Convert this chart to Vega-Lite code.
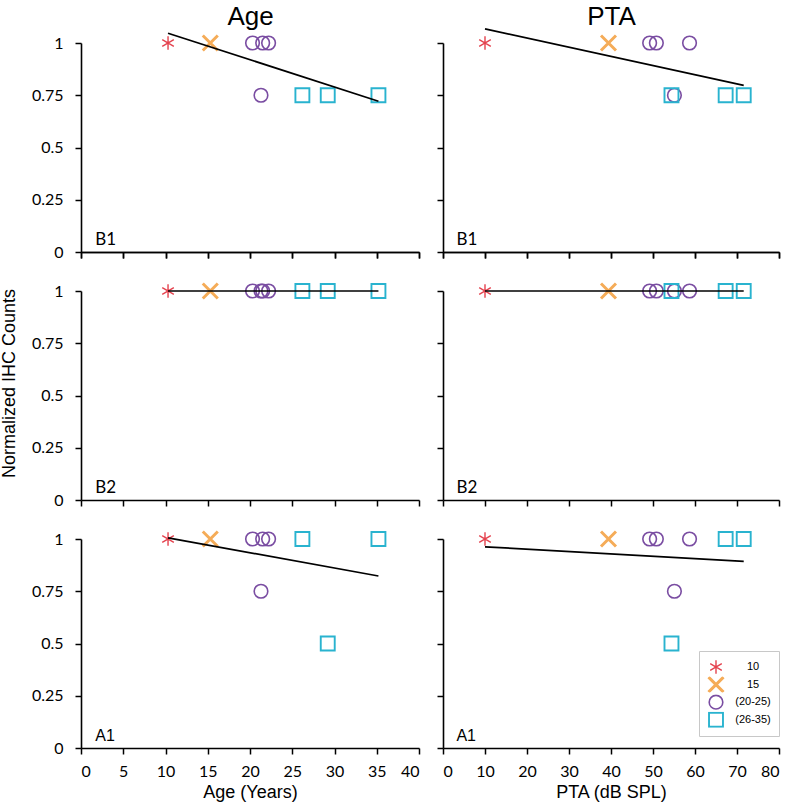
{
  "$schema": "https://vega.github.io/schema/vega-lite/v6.json",
  "background": "white",
  "padding": {"left": 0, "top": 3, "right": 2, "bottom": 2},
  "datasets": {
    "ihc": [
      {"subject": 1, "group": "10", "age": 10.3, "pta": 10.0, "region": "B1", "count": 1},
      {"subject": 2, "group": "15", "age": 15.3, "pta": 39.4, "region": "B1", "count": 1},
      {"subject": 3, "group": "(20-25)", "age": 20.3, "pta": 49.2, "region": "B1", "count": 1},
      {"subject": 4, "group": "(20-25)", "age": 21.5, "pta": 50.8, "region": "B1", "count": 1},
      {"subject": 5, "group": "(20-25)", "age": 22.2, "pta": 58.7, "region": "B1", "count": 1},
      {"subject": 6, "group": "(20-25)", "age": 21.3, "pta": 55.1, "region": "B1", "count": 0.75},
      {"subject": 7, "group": "(26-35)", "age": 26.2, "pta": 67.3, "region": "B1", "count": 0.75},
      {"subject": 8, "group": "(26-35)", "age": 29.2, "pta": 54.4, "region": "B1", "count": 0.75},
      {"subject": 9, "group": "(26-35)", "age": 35.2, "pta": 71.6, "region": "B1", "count": 0.75},
      {"subject": 1, "group": "10", "age": 10.3, "pta": 10.0, "region": "B2", "count": 1},
      {"subject": 2, "group": "15", "age": 15.3, "pta": 39.4, "region": "B2", "count": 1},
      {"subject": 3, "group": "(20-25)", "age": 20.3, "pta": 49.2, "region": "B2", "count": 1},
      {"subject": 4, "group": "(20-25)", "age": 21.5, "pta": 50.8, "region": "B2", "count": 1},
      {"subject": 5, "group": "(20-25)", "age": 22.2, "pta": 58.7, "region": "B2", "count": 1},
      {"subject": 6, "group": "(20-25)", "age": 21.3, "pta": 55.1, "region": "B2", "count": 1},
      {"subject": 7, "group": "(26-35)", "age": 26.2, "pta": 67.3, "region": "B2", "count": 1},
      {"subject": 8, "group": "(26-35)", "age": 29.2, "pta": 54.4, "region": "B2", "count": 1},
      {"subject": 9, "group": "(26-35)", "age": 35.2, "pta": 71.6, "region": "B2", "count": 1},
      {"subject": 1, "group": "10", "age": 10.3, "pta": 10.0, "region": "A1", "count": 1},
      {"subject": 2, "group": "15", "age": 15.3, "pta": 39.4, "region": "A1", "count": 1},
      {"subject": 3, "group": "(20-25)", "age": 20.3, "pta": 49.2, "region": "A1", "count": 1},
      {"subject": 4, "group": "(20-25)", "age": 21.5, "pta": 50.8, "region": "A1", "count": 1},
      {"subject": 5, "group": "(20-25)", "age": 22.2, "pta": 58.7, "region": "A1", "count": 1},
      {"subject": 6, "group": "(20-25)", "age": 21.3, "pta": 55.1, "region": "A1", "count": 0.75},
      {"subject": 7, "group": "(26-35)", "age": 26.2, "pta": 67.3, "region": "A1", "count": 1},
      {"subject": 8, "group": "(26-35)", "age": 29.2, "pta": 54.4, "region": "A1", "count": 0.5},
      {"subject": 9, "group": "(26-35)", "age": 35.2, "pta": 71.6, "region": "A1", "count": 1}
    ]
  },
  "bounds": "flush",
  "columns": 2,
  "spacing": {"row": 39, "column": 24},
  "resolve": {
    "legend": {"color": "independent", "shape": "independent", "size": "independent", "strokeWidth": "independent"}
  },
  "concat": [
    {
      "width": 338, "height": 209,
      "data": {"name": "ihc"},
      "transform": [{"filter": "datum.region === 'B1'"}],
      "layer": [
        {
          "mark": {"type": "point", "filled": false, "opacity": 1},
          "encoding": {
            "x": {"field": "age", "type": "quantitative", "scale": {"domain": [0, 40], "nice": false, "zero": false}, "axis": {"orient": "bottom", "values": [0, 5, 10, 15, 20, 25, 30, 35, 40], "labels": false, "title": null}},
            "y": {"field": "count", "type": "quantitative", "scale": {"domain": [0, 1], "nice": false}, "axis": {"values": [0, 0.25, 0.5, 0.75, 1], "format": ".2~f", "title": null}},
            "shape": {"field": "group", "type": "nominal", "scale": {"domain": ["10", "15", "(20-25)", "(26-35)"], "range": ["M0,-1L0,1M-0.866,-0.5L0.866,0.5M-0.866,0.5L0.866,-0.5", "M-1,-1L1,1M-1,1L1,-1", "circle", "square"]}, "legend": null},
            "color": {"field": "group", "type": "nominal", "scale": {"domain": ["10", "15", "(20-25)", "(26-35)"], "range": ["#E4424E", "#F5AC58", "#7A4DA2", "#29B3CF"]}, "legend": null},
            "size": {"field": "group", "type": "nominal", "scale": {"type": "ordinal", "domain": ["10", "15", "(20-25)", "(26-35)"], "range": [180, 225, 185, 195]}, "legend": null},
            "strokeWidth": {"field": "group", "type": "nominal", "scale": {"type": "ordinal", "domain": ["10", "15", "(20-25)", "(26-35)"], "range": [1.4, 3, 1.6, 1.9]}, "legend": null}
          }
        },
        {
          "transform": [{"regression": "count", "on": "age"}],
          "mark": {"type": "line", "color": "black", "strokeWidth": 1.7},
          "encoding": {
            "x": {"field": "age", "type": "quantitative", "axis": {"orient": "top", "title": "Age", "domain": false, "ticks": false, "labels": false, "titleFontSize": 26, "titlePadding": 14}},
            "y": {"field": "count", "type": "quantitative"}
          }
        },
        {
          "data": {"values": [{"region": "B1"}]},
          "mark": {"type": "text", "align": "left", "baseline": "alphabetic", "font": "Lato", "fontSize": 17, "color": "black"},
          "encoding": {
            "x": {"datum": 1.7, "type": "quantitative", "axis": {"orient": "bottom", "values": [0, 5, 10, 15, 20, 25, 30, 35, 40], "labels": false, "title": null}},
            "y": {"datum": 0.035, "type": "quantitative"},
            "text": {"field": "region"}
          }
        }
      ]
    },
    {
      "width": 336, "height": 209,
      "data": {"name": "ihc"},
      "transform": [{"filter": "datum.region === 'B1'"}],
      "layer": [
        {
          "mark": {"type": "point", "filled": false, "opacity": 1},
          "encoding": {
            "x": {"field": "pta", "type": "quantitative", "scale": {"domain": [0, 80], "nice": false, "zero": false}, "axis": {"orient": "bottom", "values": [0, 10, 20, 30, 40, 50, 60, 70, 80], "labels": false, "title": null}},
            "y": {"field": "count", "type": "quantitative", "scale": {"domain": [0, 1], "nice": false}, "axis": {"values": [0, 0.25, 0.5, 0.75, 1], "labels": false, "title": null}},
            "shape": {"field": "group", "type": "nominal", "scale": {"domain": ["10", "15", "(20-25)", "(26-35)"], "range": ["M0,-1L0,1M-0.866,-0.5L0.866,0.5M-0.866,0.5L0.866,-0.5", "M-1,-1L1,1M-1,1L1,-1", "circle", "square"]}, "legend": null},
            "color": {"field": "group", "type": "nominal", "scale": {"domain": ["10", "15", "(20-25)", "(26-35)"], "range": ["#E4424E", "#F5AC58", "#7A4DA2", "#29B3CF"]}, "legend": null},
            "size": {"field": "group", "type": "nominal", "scale": {"type": "ordinal", "domain": ["10", "15", "(20-25)", "(26-35)"], "range": [180, 225, 185, 195]}, "legend": null},
            "strokeWidth": {"field": "group", "type": "nominal", "scale": {"type": "ordinal", "domain": ["10", "15", "(20-25)", "(26-35)"], "range": [1.4, 3, 1.6, 1.9]}, "legend": null}
          }
        },
        {
          "transform": [{"regression": "count", "on": "pta"}],
          "mark": {"type": "line", "color": "black", "strokeWidth": 1.7},
          "encoding": {
            "x": {"field": "pta", "type": "quantitative", "axis": {"orient": "top", "title": "PTA", "domain": false, "ticks": false, "labels": false, "titleFontSize": 26, "titlePadding": 14}},
            "y": {"field": "count", "type": "quantitative"}
          }
        },
        {
          "data": {"values": [{"region": "B1"}]},
          "mark": {"type": "text", "align": "left", "baseline": "alphabetic", "font": "Lato", "fontSize": 17, "color": "black"},
          "encoding": {
            "x": {"datum": 3.2, "type": "quantitative", "axis": {"orient": "bottom", "values": [0, 10, 20, 30, 40, 50, 60, 70, 80], "labels": false, "title": null}},
            "y": {"datum": 0.035, "type": "quantitative"},
            "text": {"field": "region"}
          }
        }
      ]
    },
    {
      "width": 338, "height": 209,
      "data": {"name": "ihc"},
      "transform": [{"filter": "datum.region === 'B2'"}],
      "layer": [
        {
          "mark": {"type": "point", "filled": false, "opacity": 1},
          "encoding": {
            "x": {"field": "age", "type": "quantitative", "scale": {"domain": [0, 40], "nice": false, "zero": false}, "axis": {"values": [0, 5, 10, 15, 20, 25, 30, 35, 40], "labels": false, "title": null}},
            "y": {"field": "count", "type": "quantitative", "scale": {"domain": [0, 1], "nice": false}, "axis": {"values": [0, 0.25, 0.5, 0.75, 1], "format": ".2~f", "title": "Normalized IHC Counts", "titleY": 92, "titlePadding": 13}},
            "shape": {"field": "group", "type": "nominal", "scale": {"domain": ["10", "15", "(20-25)", "(26-35)"], "range": ["M0,-1L0,1M-0.866,-0.5L0.866,0.5M-0.866,0.5L0.866,-0.5", "M-1,-1L1,1M-1,1L1,-1", "circle", "square"]}, "legend": null},
            "color": {"field": "group", "type": "nominal", "scale": {"domain": ["10", "15", "(20-25)", "(26-35)"], "range": ["#E4424E", "#F5AC58", "#7A4DA2", "#29B3CF"]}, "legend": null},
            "size": {"field": "group", "type": "nominal", "scale": {"type": "ordinal", "domain": ["10", "15", "(20-25)", "(26-35)"], "range": [180, 225, 185, 195]}, "legend": null},
            "strokeWidth": {"field": "group", "type": "nominal", "scale": {"type": "ordinal", "domain": ["10", "15", "(20-25)", "(26-35)"], "range": [1.4, 3, 1.6, 1.9]}, "legend": null}
          }
        },
        {
          "transform": [{"regression": "count", "on": "age"}],
          "mark": {"type": "line", "color": "black", "strokeWidth": 1.7},
          "encoding": {"x": {"field": "age", "type": "quantitative"}, "y": {"field": "count", "type": "quantitative"}}
        },
        {
          "data": {"values": [{"region": "B2"}]},
          "mark": {"type": "text", "align": "left", "baseline": "alphabetic", "font": "Lato", "fontSize": 17, "color": "black"},
          "encoding": {"x": {"datum": 1.7, "type": "quantitative"}, "y": {"datum": 0.035, "type": "quantitative"}, "text": {"field": "region"}}
        }
      ]
    },
    {
      "width": 336, "height": 209,
      "data": {"name": "ihc"},
      "transform": [{"filter": "datum.region === 'B2'"}],
      "layer": [
        {
          "mark": {"type": "point", "filled": false, "opacity": 1},
          "encoding": {
            "x": {"field": "pta", "type": "quantitative", "scale": {"domain": [0, 80], "nice": false, "zero": false}, "axis": {"values": [0, 10, 20, 30, 40, 50, 60, 70, 80], "labels": false, "title": null}},
            "y": {"field": "count", "type": "quantitative", "scale": {"domain": [0, 1], "nice": false}, "axis": {"values": [0, 0.25, 0.5, 0.75, 1], "labels": false, "title": null}},
            "shape": {"field": "group", "type": "nominal", "scale": {"domain": ["10", "15", "(20-25)", "(26-35)"], "range": ["M0,-1L0,1M-0.866,-0.5L0.866,0.5M-0.866,0.5L0.866,-0.5", "M-1,-1L1,1M-1,1L1,-1", "circle", "square"]}, "legend": null},
            "color": {"field": "group", "type": "nominal", "scale": {"domain": ["10", "15", "(20-25)", "(26-35)"], "range": ["#E4424E", "#F5AC58", "#7A4DA2", "#29B3CF"]}, "legend": null},
            "size": {"field": "group", "type": "nominal", "scale": {"type": "ordinal", "domain": ["10", "15", "(20-25)", "(26-35)"], "range": [180, 225, 185, 195]}, "legend": null},
            "strokeWidth": {"field": "group", "type": "nominal", "scale": {"type": "ordinal", "domain": ["10", "15", "(20-25)", "(26-35)"], "range": [1.4, 3, 1.6, 1.9]}, "legend": null}
          }
        },
        {
          "transform": [{"regression": "count", "on": "pta"}],
          "mark": {"type": "line", "color": "black", "strokeWidth": 1.7},
          "encoding": {"x": {"field": "pta", "type": "quantitative"}, "y": {"field": "count", "type": "quantitative"}}
        },
        {
          "data": {"values": [{"region": "B2"}]},
          "mark": {"type": "text", "align": "left", "baseline": "alphabetic", "font": "Lato", "fontSize": 17, "color": "black"},
          "encoding": {"x": {"datum": 3.2, "type": "quantitative"}, "y": {"datum": 0.035, "type": "quantitative"}, "text": {"field": "region"}}
        }
      ]
    },
    {
      "width": 338, "height": 209,
      "data": {"name": "ihc"},
      "transform": [{"filter": "datum.region === 'A1'"}],
      "layer": [
        {
          "mark": {"type": "point", "filled": false, "opacity": 1},
          "encoding": {
            "x": {"field": "age", "type": "quantitative", "scale": {"domain": [0, 40], "nice": false, "zero": false}, "axis": {"values": [0, 5, 10, 15, 20, 25, 30, 35, 40], "title": "Age (Years)"}},
            "y": {"field": "count", "type": "quantitative", "scale": {"domain": [0, 1], "nice": false}, "axis": {"values": [0, 0.25, 0.5, 0.75, 1], "format": ".2~f", "title": null}},
            "shape": {"field": "group", "type": "nominal", "scale": {"domain": ["10", "15", "(20-25)", "(26-35)"], "range": ["M0,-1L0,1M-0.866,-0.5L0.866,0.5M-0.866,0.5L0.866,-0.5", "M-1,-1L1,1M-1,1L1,-1", "circle", "square"]}, "legend": null},
            "color": {"field": "group", "type": "nominal", "scale": {"domain": ["10", "15", "(20-25)", "(26-35)"], "range": ["#E4424E", "#F5AC58", "#7A4DA2", "#29B3CF"]}, "legend": null},
            "size": {"field": "group", "type": "nominal", "scale": {"type": "ordinal", "domain": ["10", "15", "(20-25)", "(26-35)"], "range": [180, 225, 185, 195]}, "legend": null},
            "strokeWidth": {"field": "group", "type": "nominal", "scale": {"type": "ordinal", "domain": ["10", "15", "(20-25)", "(26-35)"], "range": [1.4, 3, 1.6, 1.9]}, "legend": null}
          }
        },
        {
          "transform": [{"regression": "count", "on": "age"}],
          "mark": {"type": "line", "color": "black", "strokeWidth": 1.7},
          "encoding": {"x": {"field": "age", "type": "quantitative"}, "y": {"field": "count", "type": "quantitative"}}
        },
        {
          "data": {"values": [{"region": "A1"}]},
          "mark": {"type": "text", "align": "left", "baseline": "alphabetic", "font": "Liberation Sans", "fontSize": 16, "color": "black"},
          "encoding": {"x": {"datum": 1.7, "type": "quantitative"}, "y": {"datum": 0.035, "type": "quantitative"}, "text": {"field": "region"}}
        }
      ]
    },
    {
      "width": 336, "height": 209,
      "data": {"name": "ihc"},
      "transform": [{"filter": "datum.region === 'A1'"}],
      "layer": [
        {
          "mark": {"type": "point", "filled": false, "opacity": 1},
          "encoding": {
            "x": {"field": "pta", "type": "quantitative", "scale": {"domain": [0, 80], "nice": false, "zero": false}, "axis": {"values": [0, 10, 20, 30, 40, 50, 60, 70, 80], "title": "PTA (dB SPL)"}},
            "y": {"field": "count", "type": "quantitative", "scale": {"domain": [0, 1], "nice": false}, "axis": {"values": [0, 0.25, 0.5, 0.75, 1], "labels": false, "title": null}},
            "shape": {"field": "group", "type": "nominal", "scale": {"domain": ["10", "15", "(20-25)", "(26-35)"], "range": ["M0,-1L0,1M-0.866,-0.5L0.866,0.5M-0.866,0.5L0.866,-0.5", "M-1,-1L1,1M-1,1L1,-1", "circle", "square"]}, "legend": {"orient": "none", "legendX": 256, "legendY": 112, "title": null}},
            "color": {"field": "group", "type": "nominal", "scale": {"domain": ["10", "15", "(20-25)", "(26-35)"], "range": ["#E4424E", "#F5AC58", "#7A4DA2", "#29B3CF"]}, "legend": {"orient": "none", "legendX": 256, "legendY": 112, "title": null}},
            "size": {"field": "group", "type": "nominal", "scale": {"type": "ordinal", "domain": ["10", "15", "(20-25)", "(26-35)"], "range": [180, 225, 185, 195]}, "legend": {"orient": "none", "legendX": 256, "legendY": 112, "title": null}},
            "strokeWidth": {"field": "group", "type": "nominal", "scale": {"type": "ordinal", "domain": ["10", "15", "(20-25)", "(26-35)"], "range": [1.4, 3, 1.6, 1.9]}, "legend": {"orient": "none", "legendX": 256, "legendY": 112, "title": null}}
          }
        },
        {
          "transform": [{"regression": "count", "on": "pta"}],
          "mark": {"type": "line", "color": "black", "strokeWidth": 1.7},
          "encoding": {"x": {"field": "pta", "type": "quantitative"}, "y": {"field": "count", "type": "quantitative"}}
        },
        {
          "data": {"values": [{"region": "A1"}]},
          "mark": {"type": "text", "align": "left", "baseline": "alphabetic", "font": "Liberation Sans", "fontSize": 16, "color": "black"},
          "encoding": {"x": {"datum": 3.2, "type": "quantitative"}, "y": {"datum": 0.035, "type": "quantitative"}, "text": {"field": "region"}}
        }
      ]
    }
  ],
  "config": {
    "view": {"stroke": null},
    "font": "Liberation Sans",
    "axis": {
      "domainColor": "#000", "domainWidth": 1.6, "tickColor": "#000", "tickWidth": 1.5, "tickSize": 6,
      "grid": false, "labelFont": "Lato", "labelFontSize": 16, "labelColor": "#000",
      "titleFont": "Liberation Sans", "titleFontSize": 18, "titleFontWeight": "normal", "titleColor": "#000"
    },
    "axisY": {"labelPadding": 12},
    "axisX": {"labelPadding": 9, "titlePadding": 4},
    "legend": {
      "strokeColor": "#c8c8c8", "fillColor": "white", "padding": 8,
      "labelFont": "Liberation Sans", "labelFontSize": 11, "labelColor": "#000",
      "labelAlign": "center", "labelOffset": 28, "rowPadding": 1.6, "clipHeight": 16
    }
  }
}
